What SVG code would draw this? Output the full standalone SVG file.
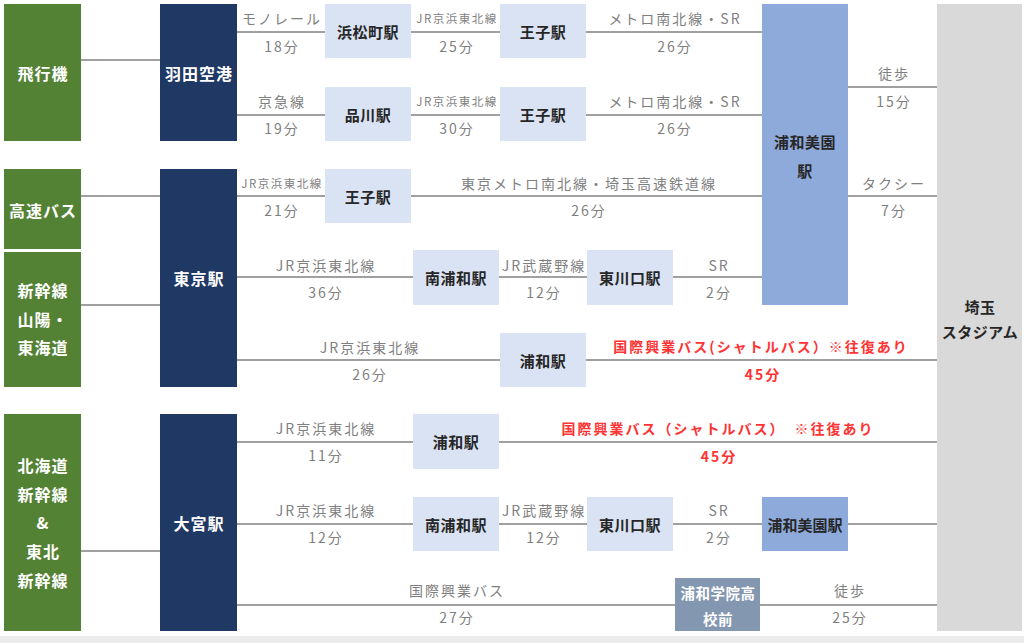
<svg xmlns="http://www.w3.org/2000/svg" width="1024" height="643" viewBox="0 0 1024 643">
<style>
text{font-family:"Noto Sans CJK JP","Noto Sans",sans-serif;text-anchor:middle;dominant-baseline:central}
.g{fill:#548235}.n{fill:#1f3864}.lb{fill:#dae3f3}.mb{fill:#8eaadb}.gy{fill:#d9d9d9}.gb{fill:#8497b0}
.wt{fill:#ffffff;font-size:16px;font-weight:bold;letter-spacing:1px}
.bt{fill:#262626;font-size:15px;font-weight:bold;letter-spacing:0.5px}
.lt{fill:#7f7f7f;font-size:14px;letter-spacing:2px}
.sm{fill:#7f7f7f;font-size:11.5px;letter-spacing:1.5px}
.rt{fill:#ff3333;font-size:14px;font-weight:bold;letter-spacing:2px}
.c line{stroke:#808080;stroke-width:1.6}
</style>
<rect x="0" y="0" width="1024" height="643" fill="#ffffff"/>
<rect x="0" y="636" width="1024" height="7" fill="#ececec"/>
<g class="c" id="connectors">
<line x1="81" y1="60" x2="160" y2="60"/>
<line x1="81" y1="196" x2="160" y2="196"/>
<line x1="81" y1="305" x2="160" y2="305"/>
<line x1="81" y1="551" x2="160" y2="551"/>
<line x1="237" y1="32" x2="325" y2="32"/>
<line x1="411" y1="32" x2="500" y2="32"/>
<line x1="586" y1="32" x2="762" y2="32"/>
<line x1="237" y1="115" x2="325" y2="115"/>
<line x1="411" y1="115" x2="500" y2="115"/>
<line x1="586" y1="115" x2="762" y2="115"/>
<line x1="848" y1="87" x2="937" y2="87"/>
<line x1="237" y1="196" x2="325" y2="196"/>
<line x1="411" y1="196" x2="762" y2="196"/>
<line x1="848" y1="196" x2="937" y2="196"/>
<line x1="237" y1="277" x2="413" y2="277"/>
<line x1="499" y1="277" x2="587" y2="277"/>
<line x1="673" y1="277" x2="762" y2="277"/>
<line x1="237" y1="360" x2="500" y2="360"/>
<line x1="586" y1="360" x2="937" y2="360"/>
<line x1="237" y1="442" x2="413" y2="442"/>
<line x1="499" y1="442" x2="937" y2="442"/>
<line x1="237" y1="524" x2="413" y2="524"/>
<line x1="499" y1="524" x2="587" y2="524"/>
<line x1="673" y1="524" x2="762" y2="524"/>
<line x1="848" y1="524" x2="937" y2="524"/>
<line x1="237" y1="605" x2="675" y2="605"/>
<line x1="760" y1="605" x2="937" y2="605"/>
</g>
<g id="labels">
<text class="lt" x="282" y="18">モノレール</text><text class="lt" x="282" y="46">18分</text>
<text class="sm" x="457" y="18">JR京浜東北線</text><text class="lt" x="457" y="46">25分</text>
<text class="lt" x="675" y="18">メトロ南北線・SR</text><text class="lt" x="675" y="46">26分</text>
<text class="lt" x="282" y="101">京急線</text><text class="lt" x="282" y="128">19分</text>
<text class="sm" x="457" y="101">JR京浜東北線</text><text class="lt" x="457" y="128">30分</text>
<text class="lt" x="675" y="101">メトロ南北線・SR</text><text class="lt" x="675" y="128">26分</text>
<text class="lt" x="894" y="73">徒歩</text><text class="lt" x="894" y="101">15分</text>
<text class="sm" x="282" y="183">JR京浜東北線</text><text class="lt" x="282" y="210">21分</text>
<text class="lt" x="589" y="183">東京メトロ南北線・埼玉高速鉄道線</text><text class="lt" x="589" y="210">26分</text>
<text class="lt" x="894" y="183">タクシー</text><text class="lt" x="894" y="210">7分</text>
<text class="lt" x="326" y="265">JR京浜東北線</text><text class="lt" x="326" y="292">36分</text>
<text class="lt" x="544" y="265">JR武蔵野線</text><text class="lt" x="544" y="292">12分</text>
<text class="lt" x="719" y="265">SR</text><text class="lt" x="719" y="292">2分</text>
<text class="lt" x="370" y="347">JR京浜東北線</text><text class="lt" x="370" y="374">26分</text>
<text class="rt" x="761" y="346">国際興業バス(シャトルバス）※往復あり</text><text class="rt" x="763" y="374">45分</text>
<text class="lt" x="326" y="428">JR京浜東北線</text><text class="lt" x="326" y="455">11分</text>
<text class="rt" x="718" y="428" xml:space="preserve">国際興業バス（シャトルバス）　※往復あり</text><text class="rt" x="719" y="456">45分</text>
<text class="lt" x="326" y="510">JR京浜東北線</text><text class="lt" x="326" y="537">12分</text>
<text class="lt" x="544" y="510">JR武蔵野線</text><text class="lt" x="544" y="537">12分</text>
<text class="lt" x="719" y="510">SR</text><text class="lt" x="719" y="537">2分</text>
<text class="lt" x="457" y="590">国際興業バス</text><text class="lt" x="457" y="617">27分</text>
<text class="lt" x="850" y="590">徒歩</text><text class="lt" x="850" y="617">25分</text>
</g>
<g id="n-hikouki"><rect class="g" x="4" y="4" width="77" height="137"/><text class="wt" x="43" y="73">飛行機</text></g>
<g id="n-kousokubus"><rect class="g" x="4" y="169" width="77" height="80"/><text class="wt" x="43" y="210">高速バス</text></g>
<g id="n-shinkansen-sanyo"><rect class="g" x="4" y="252" width="77" height="135"/><text class="wt" x="43" y="290">新幹線</text><text class="wt" x="43" y="319">山陽・</text><text class="wt" x="43" y="347">東海道</text></g>
<g id="n-shinkansen-tohoku"><rect class="g" x="4" y="414" width="77" height="217"/><text class="wt" x="43" y="465">北海道</text><text class="wt" x="43" y="494">新幹線</text><text class="wt" x="43" y="522">&amp;</text><text class="wt" x="43" y="551">東北</text><text class="wt" x="43" y="580">新幹線</text></g>
<g id="n-haneda"><rect class="n" x="160" y="4" width="77" height="137"/><text class="wt" x="199" y="73">羽田空港</text></g>
<g id="n-tokyo"><rect class="n" x="160" y="169" width="77" height="218"/><text class="wt" x="199" y="278">東京駅</text></g>
<g id="n-omiya"><rect class="n" x="160" y="414" width="77" height="217"/><text class="wt" x="199" y="523">大宮駅</text></g>
<g id="n-hamamatsucho"><rect class="lb" x="325" y="4" width="86" height="54"/><text class="bt" x="368" y="31">浜松町駅</text></g>
<g id="n-oji1"><rect class="lb" x="500" y="4" width="86" height="54"/><text class="bt" x="543" y="31">王子駅</text></g>
<g id="n-shinagawa"><rect class="lb" x="325" y="87" width="86" height="54"/><text class="bt" x="368" y="114">品川駅</text></g>
<g id="n-oji2"><rect class="lb" x="500" y="87" width="86" height="54"/><text class="bt" x="543" y="114">王子駅</text></g>
<g id="n-oji3"><rect class="lb" x="325" y="169" width="86" height="54"/><text class="bt" x="368" y="196">王子駅</text></g>
<g id="n-minamiurawa1"><rect class="lb" x="413" y="250" width="86" height="55"/><text class="bt" x="456" y="277">南浦和駅</text></g>
<g id="n-higashikawaguchi1"><rect class="lb" x="587" y="250" width="86" height="55"/><text class="bt" x="630" y="277">東川口駅</text></g>
<g id="n-urawa1"><rect class="lb" x="500" y="333" width="86" height="54"/><text class="bt" x="543" y="360">浦和駅</text></g>
<g id="n-urawa2"><rect class="lb" x="413" y="414" width="86" height="55"/><text class="bt" x="456" y="441">浦和駅</text></g>
<g id="n-minamiurawa2"><rect class="lb" x="413" y="497" width="86" height="54"/><text class="bt" x="456" y="524">南浦和駅</text></g>
<g id="n-higashikawaguchi2"><rect class="lb" x="587" y="497" width="86" height="54"/><text class="bt" x="630" y="524">東川口駅</text></g>
<g id="n-uramiso1"><rect class="mb" x="762" y="4" width="86" height="301"/><text class="bt" x="805" y="141">浦和美園</text><text class="bt" x="805" y="170">駅</text></g>
<g id="n-uramiso2"><rect class="mb" x="762" y="497" width="86" height="54"/><text class="bt" x="805" y="524" style="letter-spacing:0">浦和美園駅</text></g>
<g id="n-uragaku"><rect class="gb" x="675" y="578" width="85" height="53"/><text class="wt" style="font-size:14.5px;letter-spacing:0.5px" x="718" y="592">浦和学院高</text><text class="wt" style="font-size:14.5px;letter-spacing:0.5px" x="718" y="618">校前</text></g>
<g id="n-stadium"><rect class="gy" x="937" y="4" width="85" height="627"/><text class="bt" x="980" y="306">埼玉</text><text class="bt" x="980" y="331">スタジアム</text></g>
</svg>
